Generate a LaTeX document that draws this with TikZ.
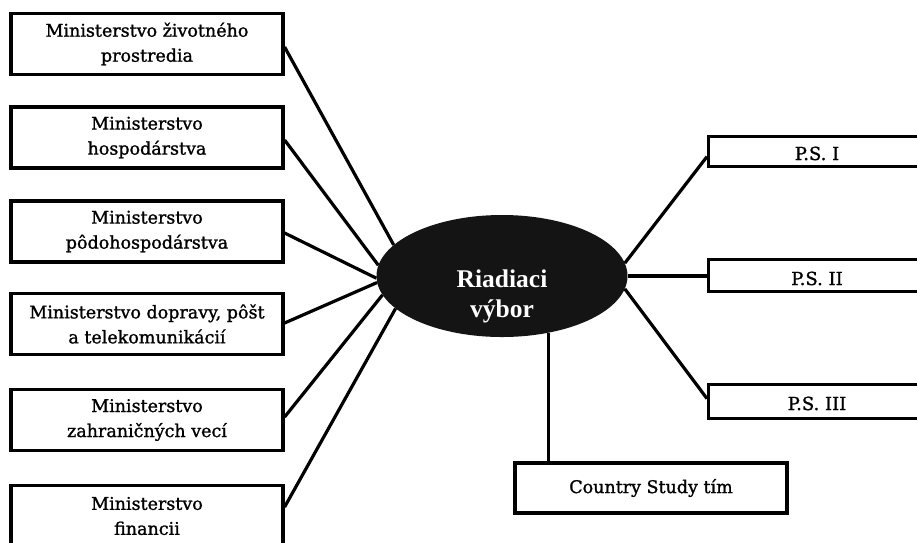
\documentclass[tikz,border=0pt]{standalone}
\usepackage{fontspec}
\setmainfont{DejaVu Serif}
\newfontfamily\boxfont{DejaVu Serif}[FakeBold=1.2]
\newfontfamily\rvfont{Liberation Serif}
\usetikzlibrary{shapes.geometric}
\begin{document}
\begin{tikzpicture}[x=1pt,y=-1pt,
  ministry/.style={draw, line width=3.2pt, minimum width=272pt, minimum height=61pt,
    align=center, inner sep=0pt, font=\boxfont\fontsize{17.5}{25}\selectfont},
  psbox/.style={draw, line width=3.2pt, minimum width=240pt, anchor=north west, inner sep=0pt},
  pslabel/.style={anchor=base, inner sep=0pt, font=\boxfont\fontsize{18}{22}\selectfont},
  link/.style={line width=3.2pt},
  committee/.style={ellipse, fill=black!92, minimum width=251pt, minimum height=122pt, inner sep=0pt},
  rvtext/.style={text=white, align=center, inner sep=0pt, font=\rvfont\bfseries\fontsize{25.5}{30}\selectfont}]
\useasboundingbox (0,0) rectangle (917,542);
\fill[white] (0,0) rectangle (917,542);
\clip (0,0) rectangle (917,542);

% left boxes
\node[ministry] (m1) at (147,44) {Ministerstvo životného\\prostredia};
\node[ministry] (m2) at (147,137.5) {Ministerstvo\\hospodárstva};
\node[ministry] (m3) at (147,231.5) {Ministerstvo\\pôdohospodárstva};
\node[ministry] (m4) at (147,324) {Ministerstvo dopravy, pôšt\\a telekomunikácií};
\node[ministry] (m5) at (147,420) {Ministerstvo\\zahraničných vecí};
\node[ministry] (m6) at (147,516) {Ministerstvo\\financii};

% central ellipse
\node[committee] (rv) at (502,276) {};
\node[rvtext] (rvt) at (502,296) {Riadiaci\\výbor};

% right boxes
\node[psbox, minimum height=30pt] (p1) at (707,135) {};
\node[pslabel] (p1t) at (817,160) {P.S. I};
\node[psbox, minimum height=32pt] (p2) at (707,258) {};
\node[pslabel] (p2t) at (817,285) {P.S. II};
\node[psbox, minimum height=34pt] (p3) at (707,383) {};
\node[pslabel] (p3t) at (817,410) {P.S. III};

% bottom box
\node[ministry, minimum height=50pt] (cst) at (651,488) {Country Study tím};

% connectors
\draw[link] ([yshift=-3pt]m1.east) -- (rv.164);
\draw[link] ([yshift=-2.5pt]m2.east) -- (rv.175);
\draw[link] ([yshift=-1.5pt]m3.east) -- (rv.181);
\draw[link] ([yshift=1pt]m4.east) -- (rv.183);
\draw[link] ([yshift=3pt]m5.east) -- (rv.189);
\draw[link] ([yshift=9pt]m6.east) -- (rv.197);

\draw[link] (rv.6.5) -- ([yshift=-5pt]p1.west);
\draw[link] (rv.east) -- (rv.east -| p2.west);
\draw[link] (rv.-6.5) -- ([yshift=3pt]p3.west);
\draw[link] (rv.-51) -- (rv.-51 |- cst.north);
\end{tikzpicture}
\end{document}
